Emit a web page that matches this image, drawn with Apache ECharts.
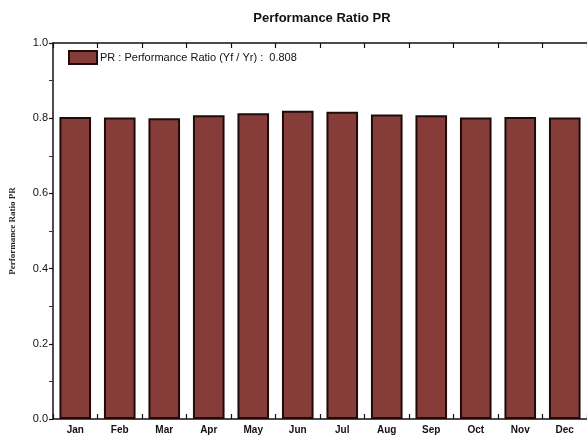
<!DOCTYPE html>
<html>
<head>
<meta charset="utf-8">
<script src="https://cdn.jsdelivr.net/npm/echarts@6/dist/echarts.min.js"></script>
<style>
  html, body { margin: 0; padding: 0; background: #fff; }
  #main { width: 587px; height: 436px; }
</style>
</head>
<body>
<div id="main"></div>
<script>
// monthly values
var months = ['Jan', 'Feb', 'Mar', 'Apr', 'May', 'Jun', 'Jul', 'Aug', 'Sep', 'Oct', 'Nov', 'Dec'];
var prValues = [0.803, 0.802, 0.800, 0.808, 0.813, 0.820, 0.817, 0.810, 0.808, 0.802, 0.803, 0.802];
var prYear = 0.808;
var yTicks = [0, 0.2, 0.4, 0.6, 0.8, 1.0];

var chart = echarts.init(document.getElementById('main'));
var axisLine = { show: true, lineStyle: { color: '#111', width: 1.5 } };

chart.setOption({
    animation: false,
    title: {
        text: 'Performance Ratio PR',
        left: 317, top: 7, textAlign: 'center',
        textStyle: { fontFamily: 'Liberation Sans', fontSize: 13, fontWeight: 'bold', color: '#111' }
    },
    legend: {
        data: [{ name: 'PR', icon: 'rect' }],
        left: 63, top: 45,
        itemWidth: 28, itemHeight: 13, itemGap: 4,
        itemStyle: { borderColor: '#1e0c0b', borderWidth: 2 },
        formatter: function () { return 'PR : Performance Ratio (Yf / Yr) :  ' + prYear.toFixed(3); },
        textStyle: { fontFamily: 'Liberation Sans', fontSize: 11, color: '#111', padding: [0, 0, 0, -2] }
    },
    grid: { left: 53, top: 43, width: 534, height: 376 },
    xAxis: [{
        type: 'category', data: months, position: 'bottom',
        axisLine: axisLine,
        axisTick: { show: true, inside: true, length: 5, lineStyle: { color: '#111', width: 1.2 } },
        axisLabel: { fontFamily: 'Liberation Sans', fontSize: 10, fontWeight: 'bold', color: '#111', margin: 6 }
    }, {
        type: 'category', data: months, position: 'top',
        axisLine: axisLine,
        axisTick: { show: true, inside: true, length: 5, lineStyle: { color: '#111', width: 1.2 } },
        axisLabel: { show: false }
    }],
    yAxis: {
        type: 'value', min: 0, max: 1, interval: 0.2,
        name: 'Performance Ratio PR', nameLocation: 'middle', nameGap: 36,
        nameTextStyle: { fontFamily: 'Liberation Serif', fontSize: 9, fontWeight: 'bold', color: '#222' },
        axisLine: axisLine,
        axisTick: { show: true, length: 4, lineStyle: { color: '#111', width: 1.2 } },
        minorTick: { show: true, splitNumber: 2, length: 4, lineStyle: { color: '#333' } },
        splitLine: { show: false },
        axisLabel: {
            fontFamily: 'Liberation Sans', fontSize: 11, color: '#111', margin: 5,
            formatter: function (v) { return yTicks.indexOf(v) >= 0 ? v.toFixed(1) : ''; }
        }
    },
    series: [{
        name: 'PR', type: 'bar', data: prValues, barWidth: '71%',
        itemStyle: { color: '#863d3a', borderColor: '#1e0c0b', borderWidth: 2 }
    }]
});
</script>
</body>
</html>
